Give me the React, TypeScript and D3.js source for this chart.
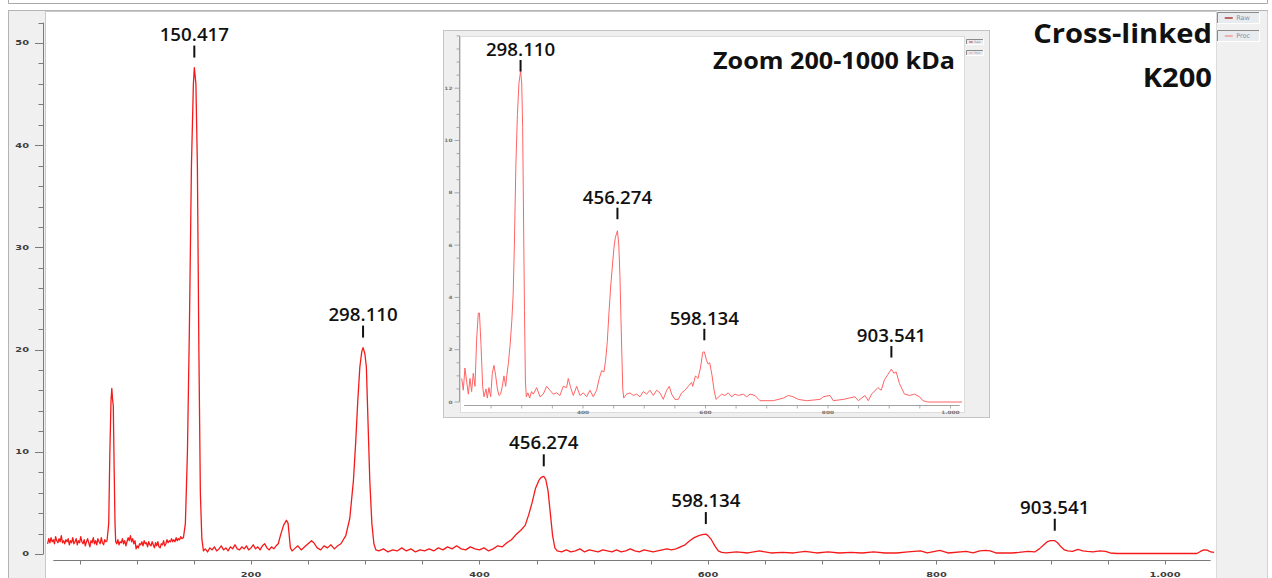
import React from "react";
import * as d3 from "d3";

type Pt = [number, number];

// Processed trace, full range: [mass (kDa), intensity]
const mainSpectrum: Pt[] = [
  [22, 1.0], [23, 1.5], [24, 1.1], [25, 1.6], [26, 1.2], [27, 1.4], [28, 1.0], [29, 1.7], [30, 1.3], [31, 1.1],
  [32, 1.5], [33, 1.2], [34, 1.8], [35, 1.1], [36, 1.3], [37, 1.0], [38, 1.4], [39, 1.2], [40, 1.5], [41, 0.9],
  [42, 1.3], [43, 1.1], [44, 1.6], [45, 1.0], [46, 1.2], [47, 1.5], [48, 0.9], [49, 1.3], [50, 1.1], [51, 1.7],
  [52, 1.2], [53, 1.0], [54, 1.4], [55, 0.8], [56, 1.2], [57, 1.5], [58, 1.1], [59, 0.7], [60, 1.3], [61, 1.1],
  [62, 1.6], [63, 1.0], [64, 1.3], [65, 0.9], [66, 1.5], [67, 1.2], [68, 1.0], [69, 1.6], [70, 1.1], [71, 0.9],
  [72, 1.4], [73, 1.2], [74, 1.3], [75.5, 3.0], [76.5, 10], [77.5, 15], [78.2, 16.2], [78.8, 15.2], [79.5, 14.5],
  [80.3, 8], [81, 3], [81.6, 1.2], [82.5, 1.0], [83.5, 1.4], [84.5, 0.9], [85.5, 1.2], [86.5, 1.1], [87.5, 1.5],
  [88.5, 1.0], [89.5, 1.3], [90.5, 0.8], [91.5, 1.2], [92.5, 1.6], [93.5, 1.3], [94.5, 1.8], [95.5, 1.2],
  [96.5, 1.5], [97.5, 1.0], [98.5, 1.3], [99.5, 0.5], [100.5, 0.8], [101.5, 0.6], [102.5, 1.0], [103.5, 0.9],
  [104.5, 1.2], [105.5, 0.8], [106.5, 1.3], [107.5, 1.0], [108.5, 1.1], [109.5, 0.7], [110.5, 1.2], [111.5, 0.9],
  [112.5, 0.8], [113.5, 1.2], [114.5, 0.9], [115.5, 0.6], [116.5, 1.1], [117.5, 0.8], [118.5, 1.2], [119.5, 0.7],
  [120.5, 0.6], [121.5, 1.0], [122.5, 0.9], [123.5, 1.3], [124.5, 0.8], [125.5, 1.0], [126.5, 1.4], [127.5, 1.1],
  [128.5, 1.3], [129.5, 1.2], [130.5, 1.5], [131.5, 1.2], [132.5, 1.4], [133.5, 1.2], [134.5, 1.6], [135.5, 1.3],
  [136.5, 1.5], [137.5, 1.4], [138.5, 1.7], [139.5, 1.5],
  [140.9, 1.6], [142.6, 3], [144.4, 10], [146.1, 22], [147.9, 38], [149.6, 46], [150.417, 47.6], [151.8, 46],
  [153.1, 38], [154.4, 20], [155.7, 6], [157, 1.5], [158.4, 0.3],
  [160, 0.5], [162, 0.2], [164, 0.6], [166, 0.4], [168, 0.7], [170, 0.3], [172, 0.5], [174, 0.8], [176, 0.4],
  [178, 0.6], [180, 0.3], [182, 0.7], [184, 0.5], [186, 0.9], [188, 0.5], [190, 0.4], [192, 0.7], [194, 0.5],
  [196, 0.8], [198, 0.4], [200, 0.6], [202, 0.9], [204, 0.5], [206, 0.7], [208, 0.4], [210, 0.8], [212, 1.0],
  [214, 0.6], [216, 0.4], [218, 0.7], [220, 0.5], [222, 0.8],
  [223.9, 1.0], [226, 1.9], [228.5, 2.8], [231, 3.3], [232.5, 3.0], [233.5, 1.8], [234.5, 0.6], [236, 0.3],
  [238, 0.5], [241, 0.8], [244, 0.4], [247, 0.7], [250, 1.0], [253, 1.3], [255, 1.1], [258, 0.6], [261, 0.4],
  [264, 0.8], [267, 0.6], [270, 0.9], [273, 0.5], [276, 0.8],
  [278.7, 1.0], [283, 1.8], [286.5, 3.5], [289.7, 7.2], [291.7, 11], [293.5, 15], [295.3, 18.3], [297, 19.8],
  [298.11, 20.2], [299.7, 19.6], [301, 18.3], [302.7, 12], [304, 7.2], [305.8, 3], [307.6, 1.0], [309.3, 0.4],
  [312, 0.3], [316, 0.5], [320, 0.2], [324, 0.4], [328, 0.3], [332, 0.6], [336, 0.3], [340, 0.5], [344, 0.2],
  [348, 0.4], [352, 0.3], [356, 0.5], [360, 0.3], [364, 0.6], [368, 0.4], [372, 0.7], [376, 0.5], [380, 0.8],
  [384, 0.5], [388, 0.4], [392, 0.7], [396, 0.5], [400, 0.4], [404, 0.6], [408, 0.3], [412, 0.5], [416, 0.8],
  [420, 0.7], [424, 1.1], [428, 1.4], [432, 1.9], [436, 2.3], [440, 2.8], [443, 3.8], [446, 5.0], [449, 6.4],
  [452, 7.2], [454, 7.5], [456.274, 7.6], [458, 7.3], [460, 6.2], [462, 4.0], [464, 1.8], [466, 0.6], [468, 0.3],
  [472, 0.2], [476, 0.4], [480, 0.2], [484, 0.3], [488, 0.5], [492, 0.2], [496, 0.4], [500, 0.3], [504, 0.2],
  [508, 0.4], [512, 0.3], [516, 0.2], [520, 0.4], [524, 0.2], [528, 0.3], [532, 0.5], [536, 0.3], [540, 0.2],
  [544, 0.4], [548, 0.3], [552, 0.2], [556, 0.3], [560, 0.4], [564, 0.5], [568, 0.4],
  [572, 0.5], [576, 0.7], [580, 0.9], [584, 1.3], [588, 1.6], [592, 1.8], [595, 1.9], [598.134, 1.95],
  [600, 1.8], [603, 1.4], [606, 0.8], [609, 0.3], [612, 0.15],
  [616, 0.1], [625, 0.2], [635, 0.1], [645, 0.3], [655, 0.1], [665, 0.15], [675, 0.1], [685, 0.25], [695, 0.1],
  [705, 0.2], [715, 0.1], [725, 0.15], [735, 0.1], [745, 0.2], [755, 0.1], [765, 0.1], [775, 0.2], [786, 0.3],
  [792, 0.1], [803, 0.35], [810, 0.1], [826, 0.25], [832, 0.1], [838, 0.3], [843, 0.35], [847, 0.3], [852, 0.1],
  [866, 0.1], [872, 0.15], [880, 0.25], [886, 0.2], [890, 0.5], [894, 0.9], [897, 1.2], [900, 1.3],
  [903.541, 1.3], [906, 1.1], [909, 0.7], [912, 0.4], [915, 0.3], [919, 0.25], [924, 0.45], [928, 0.3],
  [932, 0.25], [937, 0.2], [943, 0.3], [948, 0.25], [952, 0.1], [958, 0.05], [990, 0.05], [1028, 0.05],
  [1031, 0.25], [1034, 0.4], [1037, 0.38], [1040, 0.2], [1043, 0.15],
];

// Processed trace, 200-1000 kDa window
const zoomSpectrum: Pt[] = [
  [202, 0.9], [204.6, 0.45], [207.3, 1.3], [210, 0.8], [212.8, 0.3], [215.5, 0.9], [218.2, 0.4], [220.9, 1.1],
  [223.7, 0.6], [226.4, 2.4], [229.1, 3.4], [231, 3.4], [233.5, 2.2], [236.2, 0.6], [238.4, 0.2], [241.6, 0.5],
  [243.8, 0.15], [246.5, 0.55], [249.3, 0.2], [252, 1.1], [254.7, 1.4], [257.5, 1.0], [260.2, 0.5], [262.9, 0.25],
  [265.6, 0.3], [268.3, 0.6], [271, 1.0], [273.8, 0.6],
  [275.6, 1.0], [278.3, 1.5], [281.1, 2.2], [283.8, 3.1], [286, 4.1], [288, 6], [290.5, 9.1], [293, 11],
  [295.5, 12.2], [298.11, 12.65], [300, 12.2], [301.5, 10.5], [303, 7], [304.5, 3.5], [306, 0.8], [307.5, 0.2],
  [310, 0.35], [313, 0.15], [316, 0.4], [318.9, 0.3], [324.4, 0.55], [329.8, 0.2], [335.2, 0.3], [340.7, 0.6],
  [346.1, 0.45], [351.5, 0.3], [357, 0.35], [362.4, 0.25], [367.8, 0.6], [373.3, 0.55], [376, 0.9], [379.9, 0.55],
  [384.2, 0.25], [389.7, 0.6], [395.1, 0.25], [400.5, 0.35], [406, 0.2], [411.4, 0.45], [416.8, 0.2],
  [422.3, 0.45], [426.6, 0.9], [430.5, 1.2], [434.3, 1.15], [437, 1.6], [439.7, 2.3], [442.4, 3.4], [445.2, 4.4],
  [448, 5.2], [451, 6.0], [453, 6.3], [456.274, 6.55], [458.5, 6.0], [460.4, 4.8], [462, 3.2], [463.5, 1.8],
  [465, 0.5], [466.5, 0.15],
  [471.3, 0.3], [476.7, 0.35], [482.2, 0.25], [487.6, 0.3], [493.1, 0.2], [498.5, 0.4], [503.9, 0.3],
  [509.4, 0.45], [514.8, 0.25], [520.3, 0.45], [525.7, 0.35], [531.1, 0.1], [536.6, 0.45], [540.9, 0.6],
  [544.8, 0.3], [550.2, 0.1], [555.6, 0.1], [561.1, 0.35], [566.5, 0.45], [572, 0.6], [577.4, 0.75], [579.2, 0.6],
  [583.6, 1.0], [587.8, 0.9], [591.8, 1.3], [595.6, 1.9], [598.134, 1.92], [601.6, 1.6], [604.3, 1.45],
  [607, 1.5], [610.8, 1.0], [614.1, 0.45], [617.3, 0.1],
  [626.4, 0.3], [631.8, 0.25], [637.2, 0.35], [642.7, 0.2], [648.2, 0.3], [653.6, 0.25], [661.8, 0.3],
  [667.2, 0.2], [672.7, 0.3], [680.8, 0.25], [689, 0.05], [710.7, 0.05], [727, 0.15], [735.2, 0.25],
  [743.3, 0.2], [751.5, 0.1], [765.2, 0.05], [787, 0.1], [792.3, 0.2], [803.3, 0.25], [808.7, 0.05], [825, 0.1],
  [844, 0.2], [849.5, 0.05], [860.4, 0.25], [865.8, 0.05], [871.3, 0.3],
  [881.5, 0.55], [886.9, 0.45], [892.3, 0.85], [897.8, 1.05], [903.541, 1.26], [907.6, 1.1], [911.4, 1.15],
  [916.8, 0.7], [925, 0.3], [933.2, 0.25], [941.3, 0.3], [949.5, 0.2], [955, 0.05], [963, 0.0], [1019, 0.0],
];

const mainPeakMasses = [150.417, 298.11, 456.274, 598.134, 903.541];
const zoomPeakMasses = [298.11, 456.274, 598.134, 903.541];

const mainXTickLabels = [200, 400, 600, 800, 1000];
const mainYTickLabels = [0, 10, 20, 30, 40, 50];
const zoomXTickLabels = [400, 600, 800, 1000];
const zoomYTickLabels = [0, 2, 4, 6, 8, 10, 12];

const titleLines = ["Cross-linked", "K200"];
const zoomTitle = "Zoom 200-1000 kDa";
const legendNames = ["Raw", "Proc"];
const legendColors = ["#b03434", "#f29a9a"];

const W = 1272;
const H = 578;

const locale = d3.formatLocale({ decimal: ",", thousands: ".", grouping: [3], currency: ["", ""] });
const fmtTick = locale.format(",d");
const fmtMass = d3.format(".3f");

const valueAt = (data: Pt[], m: number) => (data.find((p) => p[0] === m) || [m, 0])[1];

type STextProps = {
  x: number;
  y: number;
  sx?: number;
  anchor?: string;
  size: number;
  weight?: number | string;
  fill?: string;
  family?: string;
  children: React.ReactNode;
};

// Text with horizontal stretch
const SText = ({ x, y, sx = 1, anchor = "start", size, weight = 400, fill = "#000", family = "'Open Sans', sans-serif", children }: STextProps) => (
  <text
    transform={`translate(${x},${y}) scale(${sx},1)`}
    textAnchor={anchor}
    fontSize={size}
    fontWeight={weight}
    fill={fill}
    fontFamily={family}
  >
    {children}
  </text>
);

const tickFont = "'DejaVu Sans', Verdana, sans-serif";

function Legend({ x, y, w, h, gap, size, lineLen }: { x: number; y: number; w: number; h: number; gap: number; size: number; lineLen: number }) {
  return (
    <g>
      {legendNames.map((name, i) => {
        const top = y + i * gap;
        return (
          <g key={name}>
            <rect x={x} y={top} width={w} height={h} fill="#e9ecef" />
            <path d={`M${x + 0.5},${top + h} V${top + 0.5} H${x + w}`} fill="none" stroke="#8a8a8a" strokeWidth={1} />
            <path d={`M${x + w - 0.5},${top} V${top + h - 0.5} H${x}`} fill="none" stroke="#ffffff" strokeWidth={1} />
            <line x1={x + w * 0.18} x2={x + w * 0.18 + lineLen} y1={top + h / 2} y2={top + h / 2} stroke={legendColors[i]} strokeWidth={Math.max(1, h / 8)} />
            <SText x={x + w * 0.18 + lineLen + w * 0.08} y={top + h / 2 + size * 0.35} size={size} fill="#7f8fae" family={tickFont}>
              {name}
            </SText>
          </g>
        );
      })}
    </g>
  );
}

export default function App() {
  // main panel scales
  const x = d3.scaleLinear().domain([22, 1043]).range([47.6, 1214.1]);
  const y = d3.scaleLinear().domain([0, 52]).range([554, 22.6]);
  const line = d3.line<Pt>().x((d) => x(d[0])).y((d) => y(d[1]));

  // inset scales
  const zx = d3.scaleLinear().domain([202, 1019]).range([461.7, 962.1]);
  const zy = d3.scaleLinear().domain([0, 14]).range([402, 35.9]);
  const zline = d3.line<Pt>().x((d) => zx(d[0])).y((d) => zy(d[1]));

  const mainYAxisX = 43.5;
  const mainXAxisY = 560.5;
  const zYAxisX = 459.5;
  const zXAxisY = 405.5;

  const yMinor = d3.range(0, 52.01, 2);
  const xMinor = d3.range(50, 1040, 50);
  const zyMinor = d3.range(0, 14.01, 0.5);
  const zxMinor = d3.range(250, 1001, 50);

  return (
    <div style={{ position: "absolute", left: 0, top: 0, width: W, height: H }}>
      <svg width={W} height={H} viewBox={`0 0 ${W} ${H}`} style={{ display: "block" }}>
        <rect x={0} y={0} width={W} height={H} fill="#ffffff" />
        {/* window frame */}
        <path d={`M8.5,0 V3.5 H1267.5 V0`} fill="none" stroke="#a8a8a8" />
        <rect x={8.5} y={10.5} width={1259} height={580} fill="#f0f0f0" stroke="#b4b4b4" />
        <rect x={45.5} y={11.5} width={1171} height={580} fill="#ffffff" stroke="#c8c8c8" />

        {/* main y axis */}
        <line x1={mainYAxisX} x2={mainYAxisX} y1={y(0)} y2={y(52)} stroke="#7a7a7a" />
        {yMinor.map((v) => {
          const major = mainYTickLabels.includes(v);
          return (
            <line key={v} x1={major ? 35 : 38.5} x2={mainYAxisX} y1={Math.round(y(v)) + 0.5} y2={Math.round(y(v)) + 0.5} stroke="#7a7a7a" />
          );
        })}
        {mainYTickLabels.map((v) => (
          <SText key={v} x={29} y={y(v) + 2.4} sx={1.45} anchor="end" size={6.8} weight={700} fill="#3e3e3e" family={tickFont}>
            {fmtTick(v)}
          </SText>
        ))}

        {/* main x axis */}
        <line x1={x(27)} x2={x(1040)} y1={mainXAxisY} y2={mainXAxisY} stroke="#7a7a7a" />
        {xMinor.map((v) => (
          <line key={v} x1={Math.round(x(v)) + 0.5} x2={Math.round(x(v)) + 0.5} y1={mainXAxisY} y2={mainXAxisY + 4} stroke="#7a7a7a" />
        ))}
        {mainXTickLabels.map((v) => (
          <SText key={v} x={x(v)} y={577} sx={1.45} anchor="middle" size={6.8} weight={700} fill="#3e3e3e" family={tickFont}>
            {fmtTick(v)}
          </SText>
        ))}

        {/* main trace */}
        <path d={line(mainSpectrum) || ""} fill="none" stroke="#f51a1a" strokeWidth={1.3} strokeLinejoin="round" />

        {/* main peak labels */}
        {mainPeakMasses.map((m) => {
          const top = y(valueAt(mainSpectrum, m));
          const base = top - 27;
          return (
            <g key={m}>
              <SText x={x(m)} y={base} sx={1.04} anchor="middle" size={18} weight={600} fill="#111">
                {fmtMass(m)}
              </SText>
              <line x1={x(m)} x2={x(m)} y1={base + 5} y2={base + 17} stroke="#111" strokeWidth={2} />
            </g>
          );
        })}

        {/* title */}
        {titleLines.map((t, i) => (
          <SText key={t} x={1212} y={43 + i * 44} sx={1.06} anchor="end" size={27.5} weight={700} fill="#111">
            {t}
          </SText>
        ))}

        {/* right legend panel */}
        <rect x={1216.5} y={11} width={51} height={567} fill="#f0f0f0" />
        <Legend x={1217} y={12} w={43} h={12} gap={18} size={6.5} lineLen={8} />

        {/* inset */}
        <rect x={443.5} y={30.5} width={546} height={387} fill="#efefef" stroke="#c4c4c4" />
        <rect x={460.5} y={36.5} width={504} height={376} fill="#ffffff" stroke="#dcdcdc" />

        <line x1={zYAxisX} x2={zYAxisX} y1={zy(0)} y2={zy(14)} stroke="#8a8a8a" strokeWidth={0.8} />
        {zyMinor.map((v) => {
          const major = zoomYTickLabels.includes(v);
          return (
            <line key={v} x1={major ? 454.5 : 456.5} x2={zYAxisX} y1={zy(v)} y2={zy(v)} stroke="#8a8a8a" strokeWidth={0.7} />
          );
        })}
        {zoomYTickLabels.map((v) => (
          <SText key={v} x={452.5} y={zy(v) + 1.6} sx={1.3} anchor="end" size={4.5} weight={700} fill="#777" family={tickFont}>
            {fmtTick(v)}
          </SText>
        ))}
        <line x1={zx(206)} x2={zx(1015)} y1={zXAxisY} y2={zXAxisY} stroke="#8a8a8a" strokeWidth={0.8} />
        {zxMinor.map((v) => (
          <line key={v} x1={zx(v)} x2={zx(v)} y1={zXAxisY} y2={zXAxisY + 3} stroke="#8a8a8a" strokeWidth={0.7} />
        ))}
        {zoomXTickLabels.map((v) => (
          <SText key={v} x={zx(v)} y={414} sx={1.3} anchor="middle" size={4.5} weight={700} fill="#777" family={tickFont}>
            {fmtTick(v)}
          </SText>
        ))}

        <path d={zline(zoomSpectrum) || ""} fill="none" stroke="#ff6464" strokeWidth={1} strokeLinejoin="round" />

        {zoomPeakMasses.map((m) => {
          const top = zy(valueAt(zoomSpectrum, m));
          const base = Math.max(top - 27, 56);
          return (
            <g key={m}>
              <SText x={zx(m)} y={base} sx={1.04} anchor="middle" size={18} weight={600} fill="#111">
                {fmtMass(m)}
              </SText>
              <line x1={zx(m)} x2={zx(m)} y1={base + 4} y2={base + 15.5} stroke="#111" strokeWidth={2} />
            </g>
          );
        })}

        <SText x={955} y={69} sx={1.12} anchor="end" size={22.5} weight={700} fill="#111">
          {zoomTitle}
        </SText>

        <Legend x={966} y={39} w={18} h={6} gap={11} size={3} lineLen={3.5} />
      </svg>
    </div>
  );
}
